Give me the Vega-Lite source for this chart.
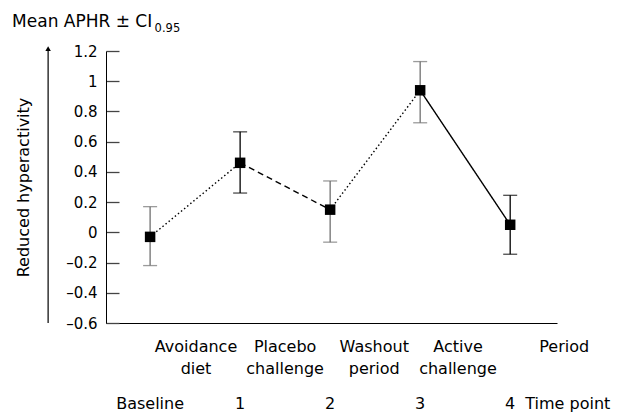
{
  "$schema": "https://vega.github.io/schema/vega-lite/v6.json",
  "width": 451,
  "height": 272,
  "autosize": "none",
  "padding": {"left": 106, "top": 51, "right": 62, "bottom": 89},
  "background": "white",
  "config": {
    "view": {"stroke": null},
    "font": "DejaVu Sans",
    "text": {"font": "DejaVu Sans"}
  },
  "datasets": {
    "points": [
      {"t": 0, "mean": -0.03, "lo": -0.22, "hi": 0.17, "bar": "grey"},
      {"t": 1, "mean": 0.46, "lo": 0.26, "hi": 0.665, "bar": "black"},
      {"t": 2, "mean": 0.15, "lo": -0.065, "hi": 0.34, "bar": "grey"},
      {"t": 3, "mean": 0.94, "lo": 0.725, "hi": 1.13, "bar": "grey"},
      {"t": 4, "mean": 0.05, "lo": -0.145, "hi": 0.245, "bar": "black"}
    ],
    "segments": [
      {"t1": 0, "m1": -0.03, "t2": 1, "m2": 0.46, "style": "dotted"},
      {"t1": 1, "m1": 0.46, "t2": 2, "m2": 0.15, "style": "dashed"},
      {"t1": 2, "m1": 0.15, "t2": 3, "m2": 0.94, "style": "dotted"},
      {"t1": 3, "m1": 0.94, "t2": 4, "m2": 0.05, "style": "solid"}
    ],
    "labels": [
      {"x": 0.51, "y": -0.792, "label": ["Avoidance", "diet"]},
      {"x": 1.5, "y": -0.792, "label": ["Placebo", "challenge"]},
      {"x": 2.49, "y": -0.792, "label": ["Washout", "period"]},
      {"x": 3.42, "y": -0.792, "label": ["Active", "challenge"]},
      {"x": 4.6, "y": -0.792, "label": ["Period"]},
      {"x": 0, "y": -1.17, "label": ["Baseline"]},
      {"x": 1, "y": -1.17, "label": ["1"]},
      {"x": 2, "y": -1.17, "label": ["2"]},
      {"x": 3, "y": -1.17, "label": ["3"]},
      {"x": 4, "y": -1.17, "label": ["4"]},
      {"x": 4.64, "y": -1.17, "label": ["Time point"]}
    ],
    "arrow": [{"x": -1.133, "y0": -0.6, "y1": 1.2, "tip": 1.215}]
  },
  "layer": [
    {
      "data": {"name": "segments"},
      "mark": {"type": "rule", "strokeWidth": 1.4, "color": "black"},
      "encoding": {
        "x": {"field": "t1", "type": "quantitative", "scale": {"domain": [-0.49, 4.52], "nice": false, "zero": false},
              "axis": {"title": null, "labels": false, "ticks": false, "grid": false, "domainColor": "black"}},
        "y": {"field": "m1", "type": "quantitative", "scale": {"domain": [-0.6, 1.2], "nice": false, "zero": false},
              "axis": {"title": "Reduced hyperactivity", "values": [-0.6, -0.4, -0.2, 0, 0.2, 0.4, 0.6, 0.8, 1, 1.2],
                       "tickCount": 20,
                       "format": ".1~f", "labelExpr": "replace(replace(datum.label, '-', '–'), '−', '–')",
                       "labelOverlap": false, "labelBound": false,
                       "grid": false, "tickSize": -13, "tickColor": "#444", "tickWidth": 1.3, "domainColor": "black",
                       "labelPadding": 22, "labelFontSize": 15, "labelColor": "black", "labelFont": "DejaVu Sans",
                       "titleFontSize": 16, "titleFontWeight": "normal", "titleColor": "black", "titleFont": "DejaVu Sans",
                       "titleX": -78, "titleBaseline": "alphabetic"}},
        "x2": {"field": "t2"},
        "y2": {"field": "m2"},
        "strokeDash": {"field": "style", "type": "nominal", "legend": null,
                       "scale": {"domain": ["dotted", "dashed", "solid"], "range": [[1.5, 2.5], [6, 4], [1, 0]]}}
      }
    },
    {
      "data": {"name": "points"},
      "mark": {"type": "rule", "strokeWidth": 1.3},
      "encoding": {
        "x": {"field": "t", "type": "quantitative"},
        "y": {"field": "lo", "type": "quantitative"},
        "y2": {"field": "hi"},
        "color": {"field": "bar", "type": "nominal", "legend": null, "scale": {"domain": ["grey", "black"], "range": ["#707070", "#000000"]}}
      }
    },
    {
      "data": {"name": "points"},
      "mark": {"type": "tick", "orient": "horizontal", "size": 14, "thickness": 1.3},
      "encoding": {
        "x": {"field": "t", "type": "quantitative"},
        "y": {"field": "lo", "type": "quantitative"},
        "color": {"field": "bar", "type": "nominal", "legend": null, "scale": {"domain": ["grey", "black"], "range": ["#707070", "#000000"]}}
      }
    },
    {
      "data": {"name": "points"},
      "mark": {"type": "tick", "orient": "horizontal", "size": 14, "thickness": 1.3},
      "encoding": {
        "x": {"field": "t", "type": "quantitative"},
        "y": {"field": "hi", "type": "quantitative"},
        "color": {"field": "bar", "type": "nominal", "legend": null, "scale": {"domain": ["grey", "black"], "range": ["#707070", "#000000"]}}
      }
    },
    {
      "data": {"name": "points"},
      "mark": {"type": "point", "shape": "square", "filled": true, "size": 110, "color": "black", "opacity": 1},
      "encoding": {
        "x": {"field": "t", "type": "quantitative"},
        "y": {"field": "mean", "type": "quantitative"}
      }
    },
    {
      "data": {"name": "labels"},
      "mark": {"type": "text", "align": "center", "baseline": "alphabetic", "fontSize": 16, "lineHeight": 22, "color": "black"},
      "encoding": {
        "x": {"field": "x", "type": "quantitative"},
        "y": {"field": "y", "type": "quantitative"},
        "text": {"field": "label"}
      }
    },
    {
      "data": {"name": "arrow"},
      "mark": {"type": "rule", "strokeWidth": 1.2, "color": "black"},
      "encoding": {
        "x": {"field": "x", "type": "quantitative"},
        "y": {"field": "y0", "type": "quantitative"},
        "y2": {"field": "y1"}
      }
    },
    {
      "data": {"name": "arrow"},
      "mark": {"type": "point", "shape": "triangle-up", "filled": true, "size": 30, "color": "black", "opacity": 1},
      "encoding": {
        "x": {"field": "x", "type": "quantitative"},
        "y": {"field": "tip", "type": "quantitative"}
      }
    },
    {
      "data": {"values": [{"x": -1.533, "y": 1.359, "txt": "Mean APHR ± CI"}]},
      "mark": {"type": "text", "align": "left", "baseline": "alphabetic", "fontSize": 17, "color": "black"},
      "encoding": {
        "x": {"field": "x", "type": "quantitative"},
        "y": {"field": "y", "type": "quantitative"},
        "text": {"field": "txt"}
      }
    },
    {
      "data": {"values": [{"x": 0.05, "y": 1.326, "txt": "0.95"}]},
      "mark": {"type": "text", "align": "left", "baseline": "alphabetic", "fontSize": 11.5, "color": "black"},
      "encoding": {
        "x": {"field": "x", "type": "quantitative"},
        "y": {"field": "y", "type": "quantitative"},
        "text": {"field": "txt"}
      }
    }
  ]
}
